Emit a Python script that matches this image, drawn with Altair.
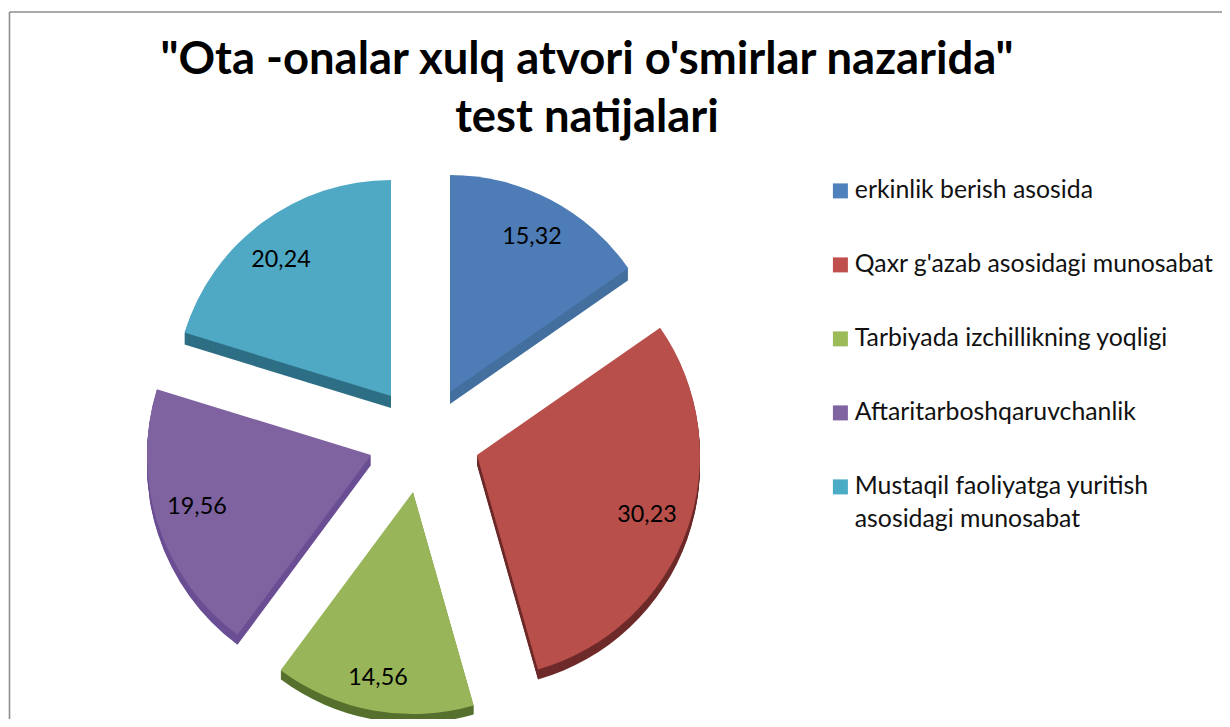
import altair as alt
import pandas as pd

# chart values
names = ["erkinlik berish asosida", "Qaxr g'azab asosidagi munosabat",
         "Tarbiyada izchillikning yoqligi", "Aftaritarboshqaruvchanlik",
         "Mustaqil faoliyatga yuritish asosidagi munosabat"]
values = [15.32, 30.23, 14.56, 19.56, 20.24]
labels = ["15,32", "30,23", "14,56", "19,56", "20,24"]
title_lines = ['"Ota -onalar xulq atvori o\'smirlar nazarida"', "test natijalari"]

# styles
legend_colors = ["#4F81BD", "#C0504D", "#9BBB59", "#8064A2", "#4BACC6"]
face_colors = ["#4D7CB6", "#B84F4B", "#98B659", "#7F63A0", "#4FA9C4"]
side_colors = ["#44709F", "#6E2B2A", "#56702E", "#6B4F94", "#2E6F85"]

# layout: exploded slice apexes, radii, extrusion depth and label anchors, in page pixels
apex_x = [450, 477, 413, 371, 391]
apex_y = [392, 455, 492, 455, 396]
radii = [217, 223, 222, 224, 216]
depths = [12, 10, 9, 10, 12]
label_x = [532, 647, 378, 197, 281]
label_y = [237, 515, 678, 507, 260]
PAGE_W, PAGE_H = 1214, 711

starts, ends, c = [], [], 0.0
for v in values:
    starts.append(c)
    c += v
    ends.append(c)
total = c

df = pd.DataFrame(dict(name=names, start=starts, end=ends, ax=apex_x, ay=apex_y,
                       r=radii, depth=depths, lab=labels, lx=label_x, ly=label_y))
side = pd.concat(
    [df[df.depth >= d].assign(ay=lambda t, d=d: t.ay + d) for d in range(max(depths), 0, -1)],
    ignore_index=True,
)

X = alt.Scale(domain=[8, 8 + PAGE_W], range=[0, PAGE_W])
Y = alt.Scale(domain=[8, 8 + PAGE_H], range=[0, PAGE_H])
theta = alt.Theta("start:Q", stack=None, scale=alt.Scale(domain=[0, total], range=[0, 6.283185]))
R = alt.Scale(type="linear", domain=[0, 300], range=[0, 300])


def slices(data, colors):
    return alt.Chart(data).mark_arc(stroke=None).encode(
        x=alt.X("ax:Q", scale=X, axis=None),
        y=alt.Y("ay:Q", scale=Y, axis=None),
        theta=theta,
        theta2="end:Q",
        radius=alt.Radius("r:Q", scale=R),
        fill=alt.Fill("name:N", sort=names, scale=alt.Scale(domain=names, range=colors), legend=None),
    )


frame = pd.DataFrame(dict(x=[9.5, 9.5], x2=[1222, 9.5], y=[12, 12], y2=[12, 719]))
frame_layer = alt.Chart(frame).mark_rule(stroke="#8E8E8E", strokeWidth=1.6).encode(
    x=alt.X("x:Q", scale=X, axis=None), x2="x2:Q",
    y=alt.Y("y:Q", scale=Y, axis=None), y2="y2:Q")

legend = alt.Legend(
    title=None, orient="none", legendX=820, legendY=170.5, symbolType="square", symbolSize=225,
    symbolOpacity=1, symbolStrokeWidth=0, labelFont="Lato", labelFontSize=24.8, labelColor="#111111",
    labelLimit=400, rowPadding=48, labelOffset=2,
    labelExpr="indexof(datum.label,'yuritish ')>0 ? ['Mustaqil faoliyatga yuritish','asosidagi munosabat'] : datum.label",
)
legend_layer = alt.Chart(df).mark_square(opacity=0, size=1).encode(
    x=alt.X("ax:Q", scale=X, axis=None),
    y=alt.Y("ay:Q", scale=Y, axis=None),
    fill=alt.Fill("name:N", sort=names, scale=alt.Scale(domain=names, range=legend_colors), legend=legend),
)

text_layer = alt.Chart(df).mark_text(font="Lato", fontSize=23.3, color="#000000").encode(
    x=alt.X("lx:Q", scale=X, axis=None),
    y=alt.Y("ly:Q", scale=Y, axis=None),
    text="lab:N",
)

chart = alt.layer(
    frame_layer,
    slices(side, side_colors),
    slices(df, face_colors),
    legend_layer,
    text_layer,
).resolve_scale(fill="independent").properties(
    width=PAGE_W, height=PAGE_H, padding=0,
    autosize=alt.AutoSizeParams(type="none"),
    title=alt.TitleParams(text=title_lines, font="Lato", fontSize=45.4, fontWeight="bold", color="#000000",
                          anchor="start", align="center", dx=579, dy=133, lineHeight=58, offset=0, frame="group"),
).configure_view(stroke=None)
chart.config.style = {"guide-label": {"lineHeight": 33}}

chart.save("out.html", embed_options={"renderer": "svg", "actions": False})
